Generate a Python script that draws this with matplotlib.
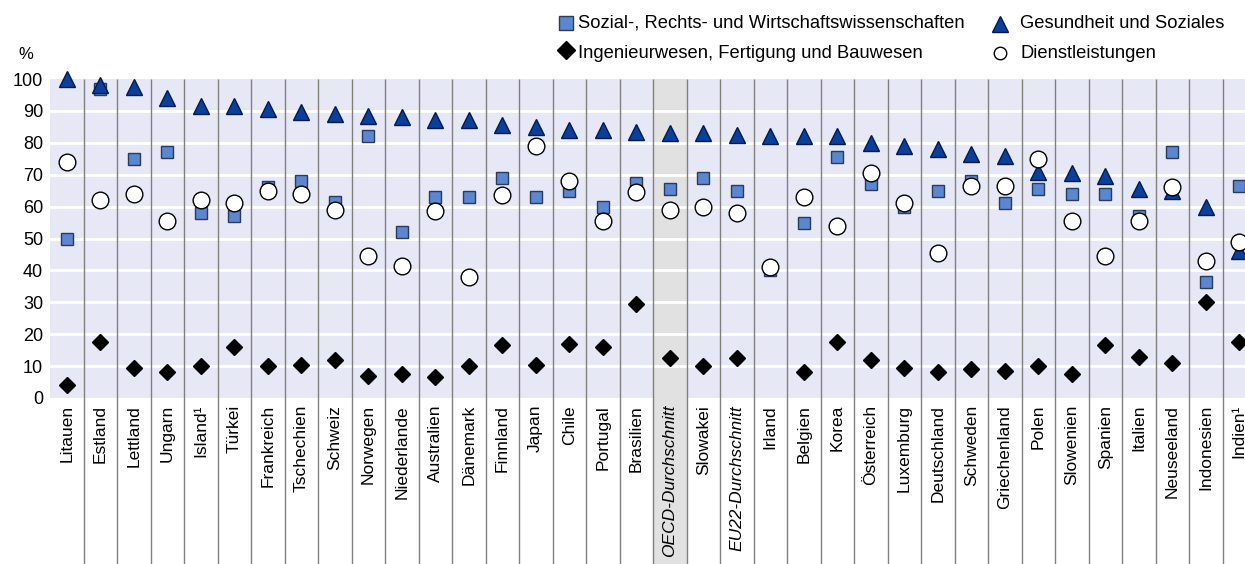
import matplotlib
matplotlib.use("Agg")
import matplotlib.pyplot as plt
from matplotlib.lines import Line2D
from matplotlib.patches import Rectangle
import numpy as np

plt.rcParams['font.family'] = ['Liberation Sans', 'DejaVu Sans']

# Anteil Frauen je Fachrichtung, in %
laender = ['Litauen', 'Estland', 'Lettland', 'Ungarn', 'Island¹', 'Türkei', 'Frankreich',
           'Tschechien', 'Schweiz', 'Norwegen', 'Niederlande', 'Australien', 'Dänemark',
           'Finnland', 'Japan', 'Chile', 'Portugal', 'Brasilien', 'OECD-Durchschnitt',
           'Slowakei', 'EU22-Durchschnitt', 'Irland', 'Belgien', 'Korea', 'Österreich',
           'Luxemburg', 'Deutschland', 'Schweden', 'Griechenland', 'Polen', 'Slowenien',
           'Spanien', 'Italien', 'Neuseeland', 'Indonesien', 'Indien¹']
sozial = [50, 97, 75, 77, 58, 57, 66, 68, 61.5, 82, 52, 63, 63, 69, 63, 65, 60, 67.5, 65.5,
          69, 65, 40, 55, 75.5, 67, 60, 65, 68, 61, 65.5, 64, 64, 57, 77, 36.5, 66.5]
gesundheit = [100, 98, 97.5, 94, 91.5, 91.5, 90.5, 89.5, 89, 88.5, 88, 87, 87, 85.5, 85, 84,
              84, 83.5, 83, 83, 82.5, 82, 82, 82, 80, 79, 78, 76.5, 76, 71, 70.5, 69.5, 65.5,
              65, 60, 46]
ingenieur = [4, 17.5, 9.5, 8, 10, 16, 10, 10.5, 12, 7, 7.5, 6.5, 10, 16.5, 10.5, 17, 16,
             29.5, 12.5, 10, 12.5, np.nan, 8, 17.5, 12, 9.5, 8, 9, 8.5, 10, 7.5, 16.5, 13,
             11, 30, 17.5]
dienst = [74, 62, 64, 55.5, 62, 61, 65, 64, 59, 44.5, 41.5, 58.5, 38, 63.5, 79, 68, 55.5,
          64.5, 59, 60, 58, 41, 63, 54, 70.5, 61, 45.5, 66.5, 66.5, 75, 55.5, 44.5, 55.5,
          66, 43, 49]

fig = plt.figure(figsize=(12.45, 5.64), dpi=100)
ax = fig.add_axes([50 / 1245, 166 / 564, 1195 / 1245, 319 / 564])
ax.set_facecolor('#e6e8f5')

x = np.arange(len(laender))
ax.set_xlim(-0.5, -0.5 + 1195 / 33.5)
ax.set_ylim(0, 100)

# OECD-Spalte grau hinterlegt, reicht bis in die Beschriftung
oecd = laender.index('OECD-Durchschnitt')
ax.add_patch(Rectangle((oecd - 0.5, -53), 1, 153, facecolor='#e1e1e1', edgecolor='none',
                       clip_on=False, zorder=0.5))

for g in range(10, 100, 10):
    ax.axhline(g, color='white', lw=2, zorder=1)
ax.vlines(x[:-1] + 0.5, -53, 100, color='#808080', lw=1, clip_on=False, zorder=1.2)

ax.plot(x, sozial, 's', ms=9, mfc='#5b86d0', mec='#2a3a5a', mew=1, zorder=3, clip_on=False)
ax.plot(x, gesundheit, '^', ms=11, mfc='#0a3f9c', mec='#001a50', mew=1, zorder=4, clip_on=False)
ax.plot(x, ingenieur, 'D', ms=8, mfc='black', mec='black', zorder=5, clip_on=False)
ax.plot(x, dienst, 'o', ms=12, mfc='white', mec='black', mew=1, zorder=6, clip_on=False)

for s in ax.spines.values():
    s.set_visible(False)
ax.set_yticks(range(0, 101, 10))
ax.tick_params(axis='y', length=0, pad=5, labelsize=13)
ax.set_xticks(x)
ax.set_xticklabels(laender, rotation=90, fontsize=12.5, va='top', ha='center')
ax.tick_params(axis='x', length=0, pad=5)
for lab in ax.get_xticklabels():
    if 'Durchschnitt' in lab.get_text():
        lab.set_style('italic')

fig.text(18 / 1245, 1 - 55 / 564, '%', fontsize=12, ha='left', va='center')

# Legende oben rechts
leg = [('s', 10.5, '#5b86d0', '#2a3a5a', 566, 23, 578, 'Sozial-, Rechts- und Wirtschaftswissenschaften'),
       ('^', 11, '#0a3f9c', '#001a50', 1000, 24, 1020, 'Gesundheit und Soziales'),
       ('D', 9, 'black', 'black', 566, 50, 578, 'Ingenieurwesen, Fertigung und Bauwesen'),
       ('o', 9, 'white', 'black', 1000, 53, 1020, 'Dienstleistungen')]
for m, ms, fc, ec, px, py, tx, txt in leg:
    fig.add_artist(Line2D([px / 1245], [1 - py / 564], marker=m, ms=ms, mfc=fc, mec=ec,
                          mew=1, transform=fig.transFigure, linestyle='none'))
    fig.text(tx / 1245, 1 - (py if m in 's^' else 53) / 564, txt, fontsize=13.2,
             ha='left', va='center')

fig.savefig('out.png', dpi=100)
